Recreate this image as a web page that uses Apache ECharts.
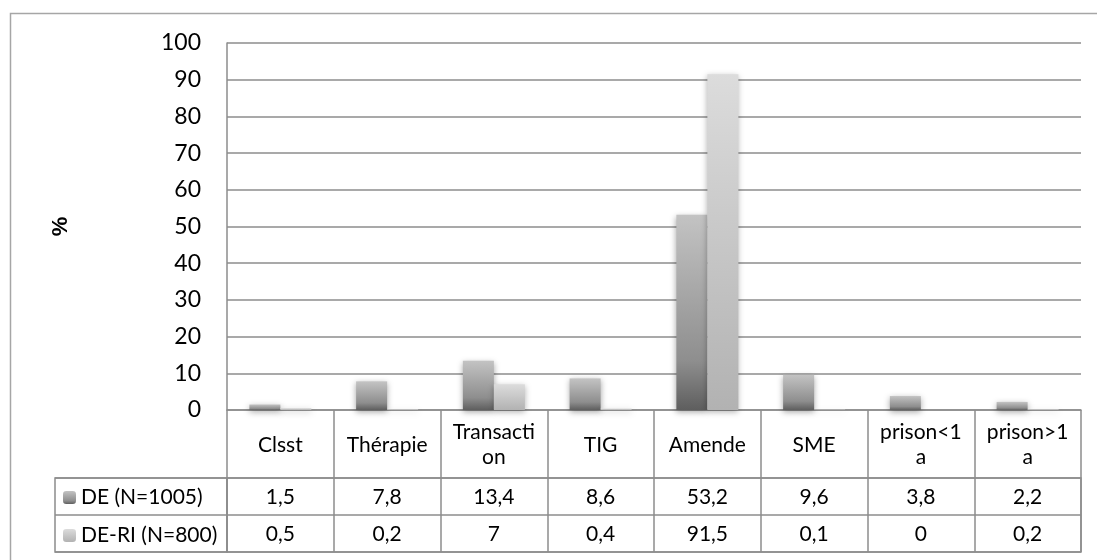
<!DOCTYPE html>
<html>
<head>
<meta charset="utf-8">
<script src="https://cdn.jsdelivr.net/npm/echarts@6/dist/echarts.min.js"></script>
<style>
html,body{margin:0;padding:0;background:#fff;}
#chart{width:1097px;height:560px;}
</style>
</head>
<body>
<div id="chart"></div>
<script>
const categories = ['Clsst', 'Thérapie', 'Transacti\non', 'TIG', 'Amende', 'SME', 'prison<1\na', 'prison>1\na'];
const seriesNames = ['DE (N=1005)', 'DE-RI (N=800)'];
const deValues = [1.5, 7.8, 13.4, 8.6, 53.2, 9.6, 3.8, 2.2];
const deriValues = [0.5, 0.2, 7, 0.4, 91.5, 0.1, 0, 0.2];
const yMin = 0, yMax = 100, yStep = 10;
const yName = '%';

const FONT = 'Lato, "Open Sans", sans-serif';
const LINE = '#8c8c8c';
const fmt = v => String(v).replace('.', ',');

const deColor = new echarts.graphic.LinearGradient(0, 0, 0, 1, [
  {offset: 0, color: '#c3c3c3'},
  {offset: 0.75, color: '#8e8e8e'},
  {offset: 1, color: '#5e5e5e'}
]);
const deriColor = new echarts.graphic.LinearGradient(0, 0, 0, 1, [
  {offset: 0, color: '#dcdcdc'},
  {offset: 1, color: '#b2b2b2'}
]);

const chart = echarts.init(document.getElementById('chart'), null, {renderer: 'canvas'});
const option = {
  animation: false,
  backgroundColor: '#fff',
  textStyle: {fontFamily: FONT},
  graphic: [{
    type: 'rect', z: -10, silent: true,
    shape: {x: 10.5, y: 13.5, width: 1120, height: 600},
    style: {fill: 'none', stroke: '#a6a6a6', lineWidth: 1.5}
  }],
  legend: {
    orient: 'vertical', left: 63, top: 487, padding: 0,
    itemWidth: 13, itemHeight: 13, itemGap: 17,
    data: seriesNames,
    itemStyle: {shadowBlur: 0, shadowOffsetY: 0},
    textStyle: {fontFamily: FONT, fontSize: 21, lineHeight: 20, color: '#000'}
  },
  grid: [
    {left: 227, top: 43, width: 854, height: 367},
    {left: 227, top: 410, width: 854, height: 68},
    {left: 227, top: 478, width: 854, height: 74, show: true, borderColor: LINE, borderWidth: 1.5, backgroundColor: 'transparent'},
    {left: 55, top: 478, width: 172, height: 74, show: true, borderColor: LINE, borderWidth: 1.5, backgroundColor: 'transparent'}
  ],
  xAxis: [
    {gridIndex: 0, type: 'category', data: categories,
     axisLine: {show: true, lineStyle: {color: LINE, width: 1.5}},
     axisTick: {show: false}, axisLabel: {show: false}, splitLine: {show: false}},
    {gridIndex: 1, type: 'category', data: categories, position: 'top',
     axisLine: {show: false, onZero: false}, axisTick: {show: false},
     splitLine: {show: true, lineStyle: {color: LINE, width: 1.5}},
     axisLabel: {inside: true, margin: 35, verticalAlign: 'middle', interval: 0,
       fontFamily: FONT, fontSize: 21, lineHeight: 25, color: '#000'}},
    {gridIndex: 2, type: 'category', data: categories, position: 'top',
     axisLine: {show: false, onZero: false}, axisTick: {show: false},
     splitLine: {show: true, lineStyle: {color: LINE, width: 1.5}},
     axisLabel: {inside: true, margin: 19, verticalAlign: 'middle', interval: 0,
       fontFamily: FONT, fontSize: 21, color: '#000',
       formatter: (v, i) => fmt(deValues[i])}},
    {gridIndex: 2, type: 'category', data: categories, position: 'bottom',
     axisLine: {show: false, onZero: false}, axisTick: {show: false},
     splitLine: {show: false},
     axisLabel: {inside: true, margin: 18, verticalAlign: 'middle', interval: 0,
       fontFamily: FONT, fontSize: 21, color: '#000',
       formatter: (v, i) => fmt(deriValues[i])}},
    {gridIndex: 3, type: 'category', data: [''], show: false}
  ],
  yAxis: [
    {gridIndex: 0, type: 'value', min: yMin, max: yMax, interval: yStep,
     name: yName, nameLocation: 'middle', nameRotate: 90, nameGap: 155,
     nameTextStyle: {fontFamily: '"Liberation Sans", Arial, sans-serif', fontSize: 22, fontWeight: 'bold', color: '#000'},
     axisLine: {show: true, lineStyle: {color: LINE, width: 1.5}},
     axisTick: {show: false},
     axisLabel: {margin: 26, fontFamily: FONT, fontSize: 23, color: '#000'},
     splitLine: {show: true, lineStyle: {color: LINE, width: 1.5}}},
    {gridIndex: 1, type: 'value', show: false, min: 0, max: 1},
    {gridIndex: 2, type: 'value', min: 0, max: 2, interval: 1,
     axisLine: {show: false}, axisTick: {show: false}, axisLabel: {show: false},
     splitLine: {show: true, lineStyle: {color: LINE, width: 1.5}}},
    {gridIndex: 3, type: 'value', min: 0, max: 2, interval: 1,
     axisLine: {show: false}, axisTick: {show: false}, axisLabel: {show: false},
     splitLine: {show: true, lineStyle: {color: LINE, width: 1.5}}}
  ],
  series: [
    {name: seriesNames[0], type: 'bar', xAxisIndex: 0, yAxisIndex: 0,
     data: deValues, barWidth: 31, barGap: '0%',
     itemStyle: {color: deColor, shadowBlur: 6, shadowColor: 'rgba(0,0,0,0.35)', shadowOffsetY: 2}},
    {name: seriesNames[1], type: 'bar', xAxisIndex: 0, yAxisIndex: 0,
     data: deriValues, barWidth: 31, barGap: '0%',
     itemStyle: {color: deriColor, shadowBlur: 6, shadowColor: 'rgba(0,0,0,0.3)', shadowOffsetY: 2}}
  ]
};
chart.setOption(option);
</script>
</body>
</html>
